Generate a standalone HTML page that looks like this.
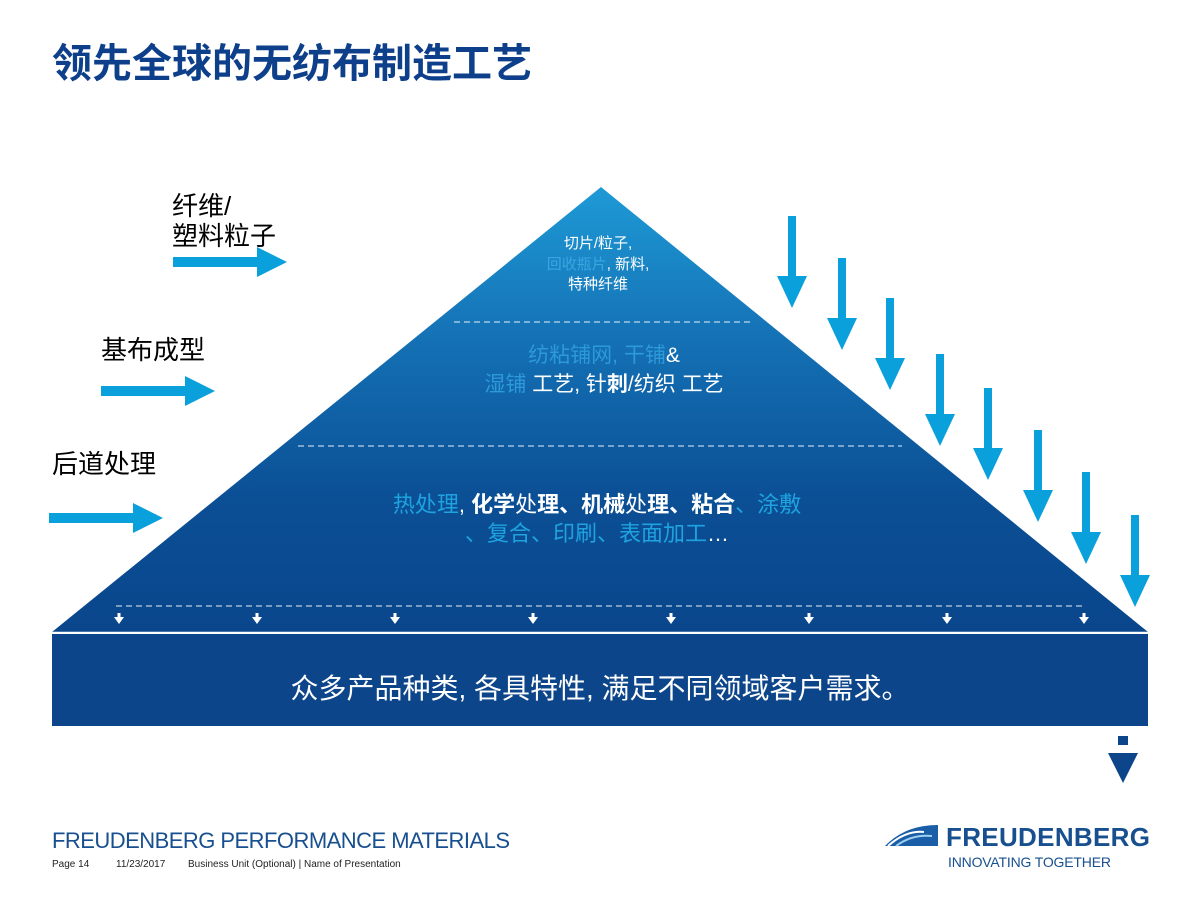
<!DOCTYPE html>
<html><head><meta charset="utf-8"><style>
body{margin:0;background:#fff;width:1200px;height:900px;overflow:hidden;font-family:"Liberation Sans","Noto Sans CJK SC",sans-serif}
</style></head><body>
<svg width="1200" height="900" xmlns="http://www.w3.org/2000/svg" style="position:absolute;left:0;top:0" font-family="Liberation Sans, Noto Sans CJK SC, sans-serif">
<defs>
<linearGradient id="g" x1="0" y1="187" x2="0" y2="632" gradientUnits="userSpaceOnUse">
<stop offset="0" stop-color="#1e9ad6"/><stop offset="0.35" stop-color="#1470b4"/><stop offset="0.7" stop-color="#0b4f95"/><stop offset="1" stop-color="#0a468c"/>
</linearGradient>
<g id="da"><rect x="-4" y="0" width="8" height="62" fill="#0aa0dc"/><polygon points="-15,60 15,60 0,92" fill="#0aa0dc"/></g>
<g id="ra"><rect x="0" y="-5" width="86" height="10" fill="#0aa0dc"/><polygon points="84,-15 84,15 114,0" fill="#0aa0dc"/></g>
<g id="sa"><rect x="-1.5" y="0" width="3" height="5" fill="#fff"/><polygon points="-5,4 5,4 0,11" fill="#fff"/></g>
</defs>
<text x="52" y="77" font-size="40" font-weight="bold" fill="#0d3f8a">领先全球的无纺布制造工艺</text>
<polygon points="601,187 52,632 1148,632" fill="url(#g)"/>
<rect x="52" y="634" width="1096" height="92" fill="#0c4589"/>
<line x1="52" y1="632.5" x2="1148" y2="632.5" stroke="#fff" stroke-width="1.5"/>
<g stroke="#e8f0f8" stroke-width="1" stroke-dasharray="6,4">
<line x1="454" y1="322" x2="752" y2="322"/>
<line x1="298" y1="446" x2="902" y2="446"/>
<line x1="116" y1="606" x2="1084" y2="606"/>
</g>
<use href="#sa" x="119" y="613"/><use href="#sa" x="257" y="613"/><use href="#sa" x="395" y="613"/><use href="#sa" x="533" y="613"/><use href="#sa" x="671" y="613"/><use href="#sa" x="809" y="613"/><use href="#sa" x="947" y="613"/><use href="#sa" x="1084" y="613"/>
<g font-size="15" text-anchor="middle" fill="#fff">
<text x="598" y="248">切片/粒子,</text>
<text x="598" y="269"><tspan fill="#3aa6e0">回收瓶片</tspan>, 新料,</text>
<text x="598" y="289">特种纤维</text>
</g>
<g font-size="21" text-anchor="middle" fill="#fff">
<text x="604" y="362"><tspan fill="#2c9ad8">纺粘铺网, 干铺</tspan>&amp;</text>
<text x="604" y="391"><tspan fill="#2c9ad8">湿铺</tspan> 工艺, 针<tspan font-weight="bold">刺</tspan>/纺织 工艺</text>
</g>
<g font-size="22" text-anchor="middle" fill="#fff">
<text x="597" y="512"><tspan fill="#1ea3e0">热处理</tspan>, <tspan font-weight="bold">化学</tspan>处<tspan font-weight="bold">理、机械</tspan>处<tspan font-weight="bold">理、粘合</tspan><tspan fill="#1ea3e0">、涂敷</tspan></text>
<text x="597" y="541"><tspan fill="#1ea3e0">、复合、印刷、表面加工</tspan>…</text>
</g>
<text x="600" y="698" font-size="28" text-anchor="middle" fill="#fff">众多产品种类, 各具特性, 满足不同领域客户需求。</text>
<g font-size="26" fill="#000">
<text x="172" y="215">纤维/</text>
<text x="172" y="245">塑料粒子</text>
<text x="101" y="359">基布成型</text>
<text x="52" y="473">后道处理</text>
</g>
<use href="#ra" x="173" y="262"/><use href="#ra" x="101" y="391"/><use href="#ra" x="49" y="518"/>
<use href="#da" x="792" y="216"/><use href="#da" x="842" y="258"/><use href="#da" x="890" y="298"/><use href="#da" x="940" y="354"/><use href="#da" x="988" y="388"/><use href="#da" x="1038" y="430"/><use href="#da" x="1086" y="472"/><use href="#da" x="1135" y="515"/>
<rect x="1118" y="736" width="10" height="9" fill="#0c4589"/>
<polygon points="1108,753 1138,753 1123,783" fill="#0c4589"/>
<text x="52" y="848" font-size="22" fill="#174f8f" textLength="458" lengthAdjust="spacing">FREUDENBERG PERFORMANCE MATERIALS</text>
<g font-size="10" fill="#222">
<text x="52" y="867">Page 14</text><text x="116" y="867">11/23/2017</text><text x="188" y="867">Business Unit (Optional)  |  Name of Presentation</text>
</g>
<path d="M885,846 Q905,825 938,825 L938,846 Z" fill="#1a5ea8"/>
<path d="M888,846 Q906,830 924,832" stroke="#fff" stroke-width="2" fill="none"/>
<path d="M896,846 Q912,834 932,836" stroke="#9fd0f0" stroke-width="2" fill="none"/>
<text x="946" y="846" font-size="26" font-weight="bold" fill="#174f8f" textLength="204">FREUDENBERG</text>
<text x="948" y="867" font-size="14" fill="#174f8f" textLength="163">INNOVATING TOGETHER</text>
</svg>
</body></html>
